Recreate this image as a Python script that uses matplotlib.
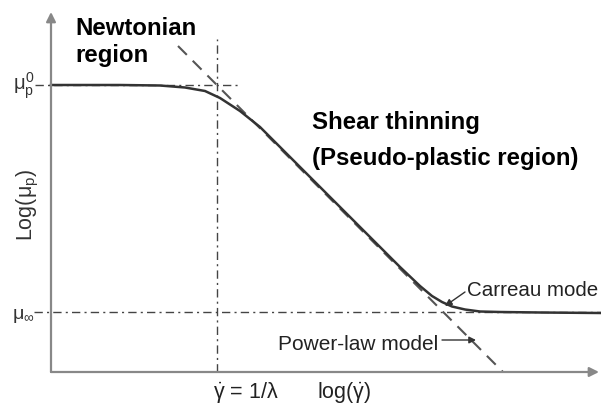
import matplotlib
matplotlib.use("Agg")
import matplotlib.pyplot as plt

plt.rcParams['font.family'] = ['Liberation Sans', 'DejaVu Sans']
plt.rcParams['mathtext.fontset'] = 'custom'
plt.rcParams['mathtext.rm'] = 'Liberation Sans'
plt.rcParams['mathtext.it'] = 'Liberation Sans'
plt.rcParams['mathtext.sf'] = 'Liberation Sans'
plt.rcParams['mathtext.bf'] = 'Liberation Sans:bold'

# Carreau curve (log shear rate, log viscosity), arbitrary units
carreau_x = [0.0, 1.38, 2.18, 2.68, 3.08, 3.38, 3.78, 4.18, 4.58, 4.98,
             5.98, 6.98, 7.38, 7.62, 7.82, 8.02, 8.28, 8.58, 8.98, 9.78, 10.98]
carreau_y = [5.74, 5.74, 5.73, 5.69, 5.62, 5.48, 5.22, 4.90, 4.50, 4.10,
             3.10, 2.10, 1.72, 1.52, 1.40, 1.31, 1.25, 1.21, 1.20, 1.19, 1.18]

# power-law asymptote (dashed)
powerlaw_x = [2.54, 9.04]
powerlaw_y = [6.52, 0.0]

mu_zero = 5.74
mu_inf = 1.20
x_lambda = 3.32   # gamma_dot = 1/lambda

fig = plt.figure(figsize=(6.01, 4.10), dpi=100)
ax = fig.add_axes([51 / 601, 37 / 410, 550 / 601, 358 / 410])
ax.set_xlim(0, 11)
ax.set_ylim(0, 7.16)
ax.axis('off')

guide = dict(color='#444444', lw=1.0, linestyle=(0, (6, 3, 1.5, 3)), clip_on=False)
ax.plot([x_lambda, x_lambda], [0, 6.66], **guide)
ax.plot([-0.32, 3.74], [mu_zero, mu_zero], **guide)
ax.plot([-0.34, 11.0], [mu_inf, mu_inf], **guide)

ax.plot(powerlaw_x, powerlaw_y, color='#555555', lw=1.5, linestyle=(0, (6, 4)), clip_on=False)
ax.plot(carreau_x, carreau_y, color='#333333', lw=1.8, clip_on=False)

# axes with arrow heads
axis_style = dict(arrowstyle='-|>', color='#888888', lw=1.6, mutation_scale=14, shrinkA=0, shrinkB=0)
ax.annotate('', xy=(0, 7.2), xytext=(0, 0), arrowprops=axis_style, annotation_clip=False)
ax.annotate('', xy=(10.96, 0), xytext=(0, 0), arrowprops=axis_style, annotation_clip=False)

# axis labels
ax.text(-0.32, mu_zero, r'$\mu_p^0$', ha='right', va='center', fontsize=14.5, color='#333333')
ax.text(-0.34, mu_inf - 0.06, r'$\mu_\infty$', ha='right', va='center', fontsize=14, color='#333333')
ax.text(-0.46, 3.36, r'Log($\mu_p$)', rotation=90, ha='center', va='center', fontsize=15.5, color='#333333')
ax.text(3.9, -0.52, r'$\dot{\gamma}$ = 1/$\lambda$', ha='center', va='baseline', fontsize=15.5, color='#222222')
ax.text(5.86, -0.52, r'log($\dot{\gamma}$)', ha='center', va='baseline', fontsize=15.5, color='#222222')

# region annotations
bold = dict(fontsize=17.3, fontweight='bold', color='black', va='baseline', ha='left')
ax.text(0.48, (373 - 35) / 50, 'Newtonian', **bold)
ax.text(0.48, (373 - 62) / 50, 'region', **bold)
ax.text(5.22, (373 - 129) / 50, 'Shear thinning', **bold)
ax.text(5.22, (373 - 165) / 50, '(Pseudo-plastic region)', **bold)

ann_arrow = dict(arrowstyle='-|>', color='#333333', lw=1.0, mutation_scale=10, shrinkA=0, shrinkB=0)
ax.text(8.32, (373 - 296) / 50, 'Carreau mode', fontsize=14.8, color='#222222', va='baseline', ha='left')
ax.annotate('', xy=(7.88, 1.32), xytext=(8.28, 1.60), arrowprops=ann_arrow)
ax.text(4.54, (373 - 350) / 50, 'Power-law model', fontsize=15, color='#222222', va='baseline', ha='left')
ax.annotate('', xy=(8.50, 0.64), xytext=(7.82, 0.64), arrowprops=ann_arrow)

fig.savefig('out.png', dpi=100)
